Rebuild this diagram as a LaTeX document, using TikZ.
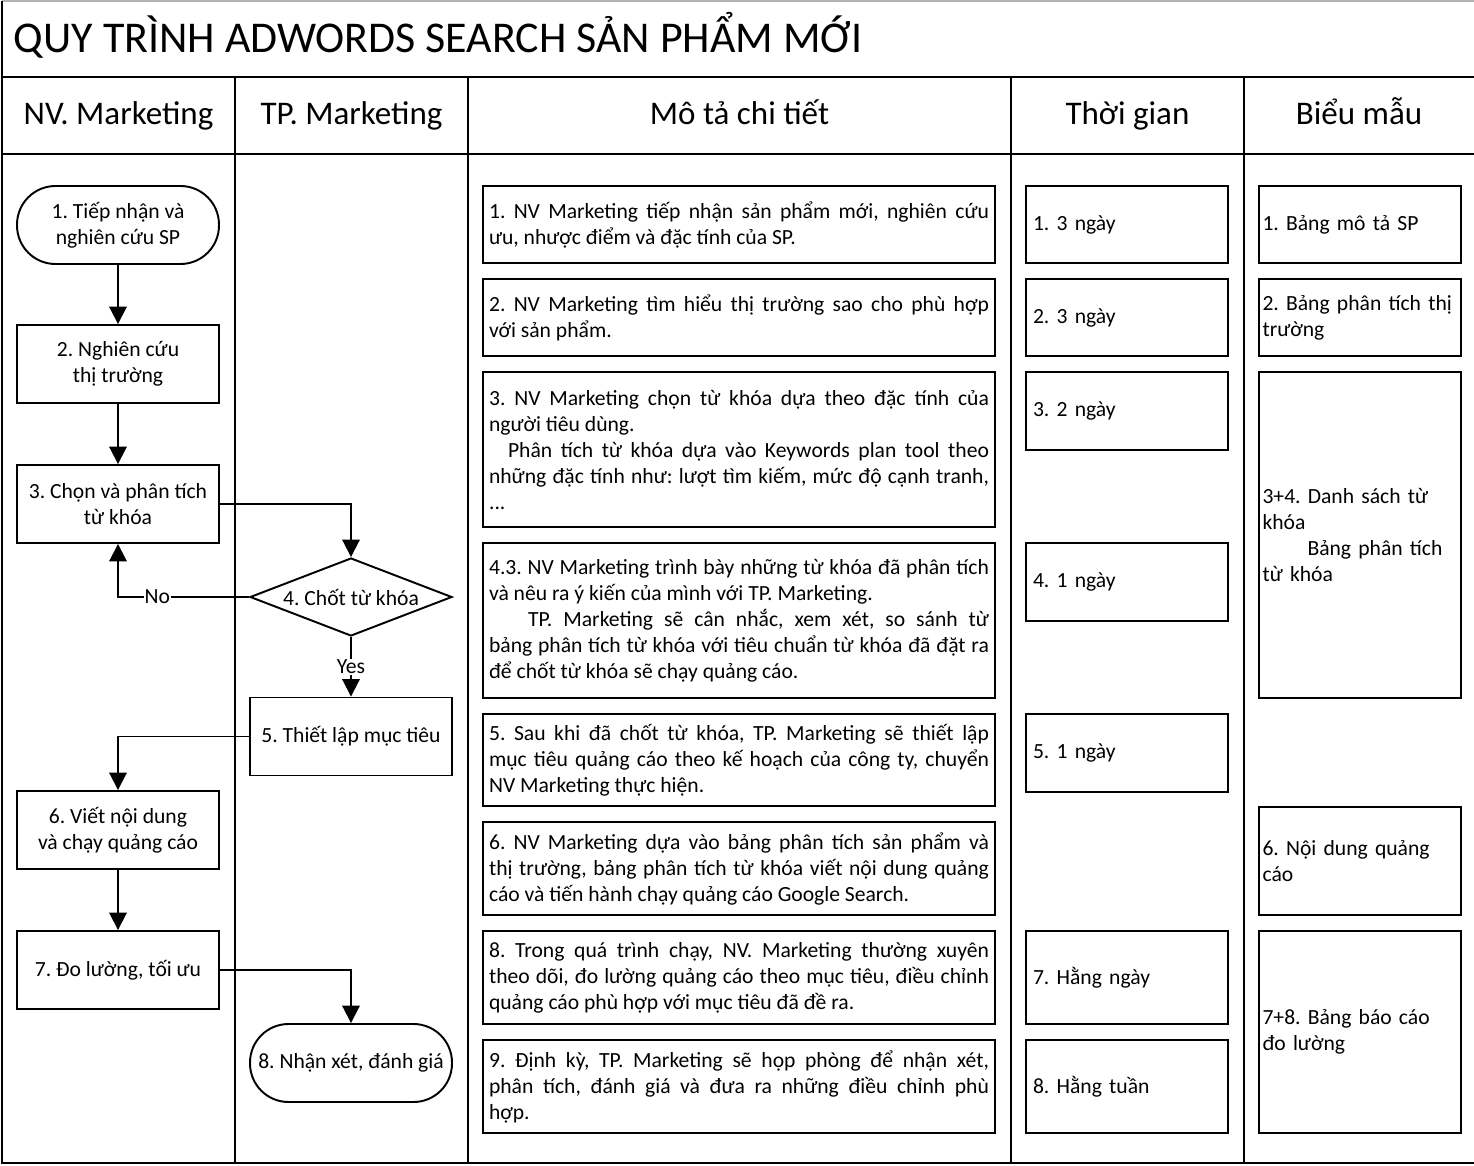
\documentclass[tikz,border=0pt]{standalone}
\usepackage{fontspec}
\setmainfont{Carlito}
\usetikzlibrary{arrows.meta,shapes.geometric}
\hyphenpenalty=10000
\frenchspacing

\begin{document}
\begin{tikzpicture}[x=0.02cm,y=-0.02cm,line width=1.1pt,
  >={Triangle[width=0.35cm,length=0.35cm]},
  txt/.style={font=\fontsize{12.3}{14.8}\selectfont},
  head/.style={font=\fontsize{18.8}{22}\selectfont,anchor=base},
  frame/.style={line width=1.4pt},
  flowbox/.style={txt,draw,minimum width=4.04cm,minimum height=1.56cm,align=center,inner sep=2pt},
  terminal/.style={flowbox,rounded corners=0.77cm},
  decision/.style={txt,draw,diamond,aspect=2.59,minimum width=4.04cm,minimum height=1.56cm,inner sep=0pt},
  descbox/.style={txt,draw,text width=10cm,inner sep=0.12cm,align=justify},
  timebox/.style={txt,draw,text width=3.76cm,inner sep=0.14cm,align=left},
  formbox/.style={txt,draw,text width=3.9cm,inner xsep=0.07cm,inner ysep=0.12cm,align=left},
  lbl/.style={txt,fill=white,inner sep=0.5pt}]
\useasboundingbox (0,0) rectangle (1474,1166);

% frame and lanes
\draw[gray!60,line width=1pt] (2,1) -- (1474,1);
\draw[frame] (2,1) -- (2,1163) -- (1474,1163);
\draw[frame] (2,77) -- (1474,77);
\draw[frame] (2,154) -- (1474,154);
\foreach \x in {235,468,1011,1244}
  \draw[frame] (\x,77) -- (\x,1163);

\node[anchor=base west,inner sep=0pt,font=\fontsize{25}{29}\selectfont] (title) at (13,53) {QUY TRÌNH ADWORDS SEARCH SẢN PHẨM MỚI};
\node[head] (h1) at (118.5,125) {NV. Marketing};
\node[head] (h2) at (351.5,125) {TP. Marketing};
\node[head] (h3) at (739.5,125) {Mô tả chi tiết};
\node[head] (h4) at (1127.5,125) {Thời gian};
\node[head] (h5) at (1359,125) {Biểu mẫu};

% flow
\node[terminal] (n1) at (118,225) {1. Tiếp nhận và\\nghiên cứu SP};
\node[flowbox] (n2) at (118,364) {2. Nghiên cứu\\thị trường};
\node[flowbox] (n3) at (118,504) {3. Chọn và phân tích\\từ khóa};
\node[decision] (n4) at (351,597) {4. Chốt từ khóa};
\node[flowbox] (n5) at (351,736.5) {5. Thiết lập mục tiêu};
\node[flowbox] (n6) at (118,830) {6. Viết nội dung\\và chạy quảng cáo};
\node[flowbox] (n7) at (118,970) {7. Đo lường, tối ưu};
\node[terminal] (n8) at (351,1063) {8. Nhận xét, đánh giá};

\draw[->] (n1) -- (n2);
\draw[->] (n2) -- (n3);
\draw[->] (n3.east) -| (n4.north);
\draw[->] (n4.west) -| node[lbl,pos=0.35] {No} (n3.south);
\draw[->] (n4.south) -- node[lbl] {Yes} (n5.north);
\draw[->] (n5.west) -| (n6.north);
\draw[->] (n6) -- (n7);
\draw[->] (n7.east) -| (n8.north);

% details
\node[descbox,minimum height=1.54cm] (d1) at (739,224.5) {1. NV Marketing tiếp nhận sản phẩm mới, nghiên cứu\linebreak ưu, nhược điểm và đặc tính của SP.};
\node[descbox,minimum height=1.54cm] (d2) at (739,317.5) {2. NV Marketing tìm hiểu thị trường sao cho phù hợp\linebreak với sản phẩm.};
\node[descbox,minimum height=3.1cm] (d3) at (739,449.5) {3. NV Marketing chọn từ khóa dựa theo đặc tính của\linebreak người tiêu dùng.\\\hspace*{0.38cm}Phân tích từ khóa dựa vào Keywords plan tool theo\linebreak những đặc tính như: lượt tìm kiếm, mức độ cạnh tranh,\linebreak ...};
\node[descbox,minimum height=3.1cm] (d4) at (739,620.5) {4.3. NV Marketing trình bày những từ khóa đã phân tích\linebreak và nêu ra ý kiến của mình với TP. Marketing.\\\hspace*{0.78cm}TP. Marketing sẽ cân nhắc, xem xét, so sánh từ\linebreak bảng phân tích từ khóa với tiêu chuẩn từ khóa đã đặt ra\linebreak để chốt từ khóa sẽ chạy quảng cáo.};
\node[descbox,minimum height=1.84cm] (d5) at (739,760) {5. Sau khi đã chốt từ khóa, TP. Marketing sẽ thiết lập\linebreak mục tiêu quảng cáo theo kế hoạch của công ty, chuyển\linebreak NV Marketing thực hiện.};
\node[descbox,minimum height=1.86cm] (d6) at (739,868.5) {6. NV Marketing dựa vào bảng phân tích sản phẩm và\linebreak thị trường, bảng phân tích từ khóa viết nội dung quảng\linebreak cáo và tiến hành chạy quảng cáo Google Search.};
\node[descbox,minimum height=1.86cm] (d8) at (739,977.5) {8. Trong quá trình chạy, NV. Marketing thường xuyên\linebreak theo dõi, đo lường quảng cáo theo mục tiêu, điều chỉnh\linebreak quảng cáo phù hợp với mục tiêu đã đề ra.};
\node[descbox,minimum height=1.86cm] (d9) at (739,1086.5) {9. Định kỳ, TP. Marketing sẽ họp phòng để nhận xét,\linebreak phân tích, đánh giá và đưa ra những điều chỉnh phù\linebreak hợp.};

% time
\node[timebox,minimum height=1.54cm] (t1) at (1127,224.5) {1. 3 ngày};
\node[timebox,minimum height=1.54cm] (t2) at (1127,317.5) {2. 3 ngày};
\node[timebox,minimum height=1.56cm] (t3) at (1127,411) {3. 2 ngày};
\node[timebox,minimum height=1.56cm] (t4) at (1127,582) {4. 1 ngày};
\node[timebox,minimum height=1.56cm] (t5) at (1127,753) {5. 1 ngày};
\node[timebox,minimum height=1.86cm] (t7) at (1127,977.5) {7. Hằng ngày};
\node[timebox,minimum height=1.86cm] (t8) at (1127,1086.5) {8. Hằng tuần};

% forms
\node[formbox,minimum height=1.54cm] (f1) at (1360,224.5) {1. Bảng mô tả SP};
\node[formbox,minimum height=1.54cm] (f2) at (1360,317.5) {2. Bảng phân tích thị\\trường};
\node[formbox,minimum height=6.52cm] (f34) at (1360,535) {3+4. Danh sách từ\\khóa\\\hspace*{0.9cm}Bảng phân tích\\từ khóa};
\node[formbox,minimum height=2.16cm] (f6) at (1360,861) {6. Nội dung quảng\\cáo};
\node[formbox,minimum height=4.04cm] (f78) at (1360,1032) {7+8. Bảng báo cáo\\đo lường};
\end{tikzpicture}
\end{document}
